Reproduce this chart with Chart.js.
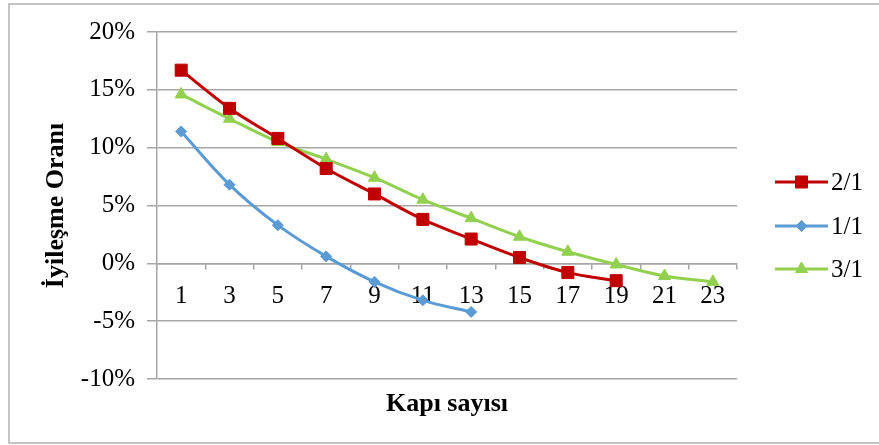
<!DOCTYPE html>
<html>
<head>
<meta charset="utf-8">
<script src="https://cdn.jsdelivr.net/npm/chart.js@4/dist/chart.umd.min.js"></script>
<style>
  html, body { margin: 0; padding: 0; background: #fff; }
  #wrap { width: 879px; height: 445px; position: relative; }
</style>
</head>
<body>
<div id="wrap"><canvas id="c" width="879" height="445"></canvas></div>
<script>
// Number of doors (odd counts) on the category axis
const kapiSayisi = ['1', '3', '5', '7', '9', '11', '13', '15', '17', '19', '21', '23'];

// Improvement ratio (%) per configuration
const oran21 = [16.7, 13.4, 10.8, 8.2, 6.0, 3.8, 2.1, 0.5, -0.8, -1.5];
const oran11 = [11.4, 6.8, 3.3, 0.6, -1.6, -3.2, -4.2];
const oran31 = [14.6, 12.5, 10.5, 9.0, 7.4, 5.5, 3.9, 2.3, 1.0, -0.1, -1.1, -1.6];

const seriesNames = ['2/1', '1/1', '3/1'];
const yTicks = [-10, -5, 0, 5, 10, 15, 20];

const SERIF = '"Liberation Serif", "Times New Roman", serif';
const GRID = '#a6a6a6';

const styles = [
  { color: '#c00000', point: 'rect', radius: 8.5 },
  { color: '#5b9bd5', point: 'rectRot', radius: 5.5 },
  { color: '#92d050', point: 'triangle', radius: 7 }
];

function makeDataset(label, data, st) {
  return {
    label: label,
    data: data,
    borderColor: st.color,
    backgroundColor: st.color,
    borderWidth: 3,
    tension: 0.35,
    pointStyle: st.point,
    pointRadius: st.radius,
    pointHoverRadius: st.radius,
    pointBorderWidth: 1,
    pointBorderColor: st.color,
    pointBackgroundColor: st.color
  };
}

// Frame, x-axis caption and the legend on the right
const decorations = {
  id: 'decorations',
  beforeDraw(chart) {
    const ctx = chart.ctx;
    ctx.save();
    ctx.fillStyle = '#ffffff';
    ctx.fillRect(0, 0, chart.width, chart.height);
    ctx.strokeStyle = '#c4c4c4';
    ctx.lineWidth = 2;
    ctx.strokeRect(9, 4, chart.width + 10, chart.height - 6);
    ctx.restore();
  },
  afterDraw(chart) {
    const ctx = chart.ctx;
    const area = chart.chartArea;
    ctx.save();
    // x-axis caption
    ctx.font = 'bold 26px ' + SERIF;
    ctx.fillStyle = '#000';
    ctx.textAlign = 'center';
    ctx.textBaseline = 'middle';
    ctx.fillText('Kapı sayısı', (area.left + area.right) / 2, 404);

    // legend
    const rows = [182, 226, 269];
    const x0 = 775, x1 = 828;
    chart.data.datasets.forEach((ds, i) => {
      const y = rows[i];
      ctx.strokeStyle = ds.borderColor;
      ctx.lineWidth = 3;
      ctx.beginPath();
      ctx.moveTo(x0, y);
      ctx.lineTo(x1, y);
      ctx.stroke();
      ctx.fillStyle = ds.pointBackgroundColor;
      ctx.strokeStyle = ds.pointBorderColor;
      ctx.lineWidth = 1;
      Chart.helpers.drawPoint(ctx, {
        pointStyle: ds.pointStyle,
        radius: ds.pointRadius,
        rotation: 0,
        borderWidth: 1
      }, (x0 + x1) / 2, y);
      ctx.fillStyle = '#000';
      ctx.font = '25px ' + SERIF;
      ctx.textAlign = 'left';
      ctx.textBaseline = 'middle';
      ctx.fillText(ds.label, x1 + 3, y + 1);
    });
    ctx.restore();
  }
};

new Chart(document.getElementById('c'), {
  type: 'line',
  data: {
    labels: kapiSayisi,
    datasets: [
      makeDataset(seriesNames[0], oran21, styles[0]),
      makeDataset(seriesNames[1], oran11, styles[1]),
      makeDataset(seriesNames[2], oran31, styles[2])
    ]
  },
  options: {
    responsive: false,
    animation: false,
    devicePixelRatio: 1,
    layout: { padding: { left: 30, right: 142, top: 32, bottom: 66 } },
    plugins: {
      legend: { display: false },
      tooltip: { enabled: false }
    },
    scales: {
      x: {
        type: 'category',
        position: { y: 0 },
        offset: true,
        grid: {
          offset: true,
          drawOnChartArea: false,
          drawTicks: true,
          tickLength: 5,
          color: GRID,
          lineWidth: 1.5
        },
        border: { display: true, color: GRID, width: 1.5 },
        ticks: {
          color: '#000',
          padding: 13,
          maxRotation: 0,
          autoSkip: false,
          font: { family: SERIF, size: 25 }
        }
      },
      y: {
        min: yTicks[0],
        max: yTicks[yTicks.length - 1],
        afterBuildTicks(scale) {
          scale.ticks = yTicks.map(v => ({ value: v }));
        },
        afterFit(scale) { scale.width = 127; },
        grid: {
          color: GRID,
          lineWidth: 1.5,
          drawTicks: true,
          tickLength: 10
        },
        border: { display: true, color: GRID, width: 1.5 },
        ticks: {
          color: '#000',
          padding: 12,
          font: { family: SERIF, size: 25 },
          callback: v => v + '%'
        },
        title: {
          display: true,
          text: 'İyileşme Oranı',
          color: '#000',
          font: { family: SERIF, size: 26, weight: 'bold' },
          padding: { top: 11, bottom: 4 }
        }
      }
    }
  },
  plugins: [decorations]
});
</script>
</body>
</html>
